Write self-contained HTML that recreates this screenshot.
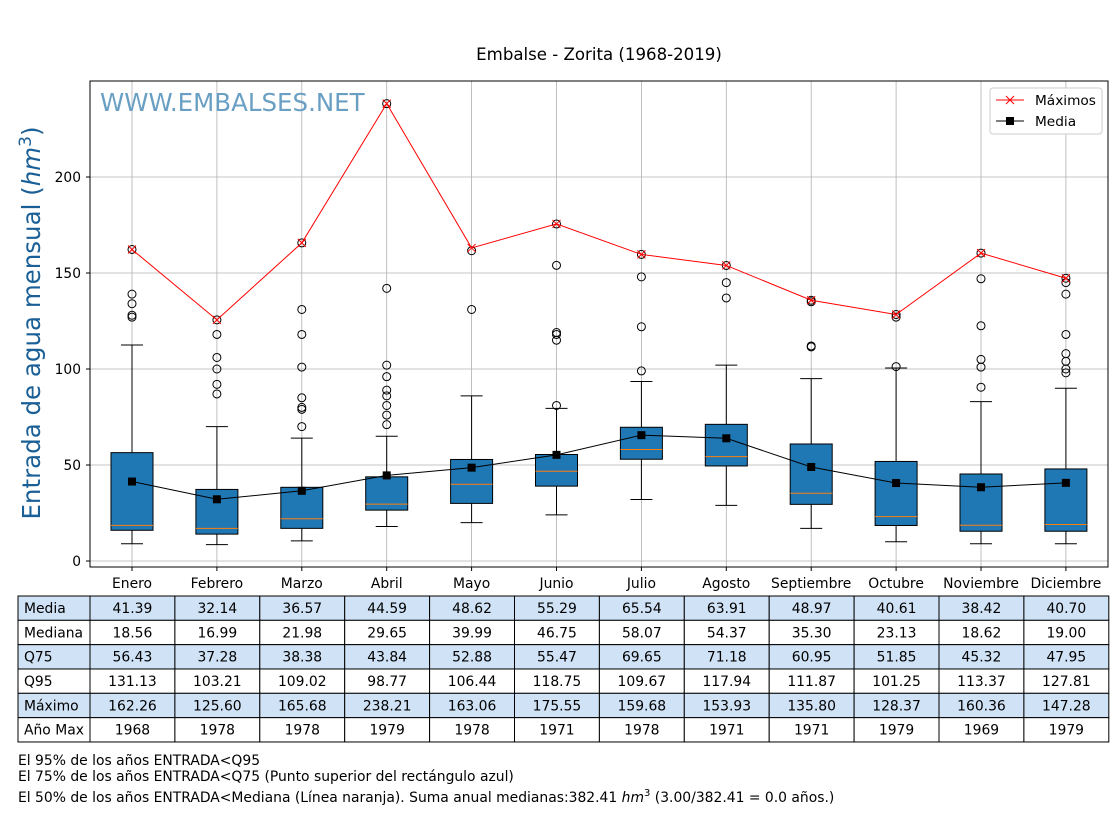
<!DOCTYPE html>
<html><head><meta charset="utf-8"><style>
body{margin:0;background:#fff;width:1120px;height:810px;overflow:hidden}
svg{font-family:"DejaVu Sans","Liberation Sans",sans-serif}
</style></head><body>
<svg id="s" width="1120" height="810" xmlns="http://www.w3.org/2000/svg"></svg>
<script>
const s=document.getElementById('s');let h='';
const Y=v=>561-1.92*v, X=i=>132+i*84.9;
h+='<text x="599" y="60" font-size="16.6" text-anchor="middle">Embalse - Zorita (1968-2019)</text>';
for(let i=0;i<12;i++)h+=`<line x1="${X(i)}" y1="81" x2="${X(i)}" y2="567" stroke="#b0b0b0" stroke-width="0.8"/>`;
for(let v=0;v<=200;v+=50){h+=`<line x1="90" y1="${Y(v)}" x2="1108" y2="${Y(v)}" stroke="#b0b0b0" stroke-width="0.8"/><line x1="86" y1="${Y(v)}" x2="90" y2="${Y(v)}" stroke="#000"/><text x="81" y="${Y(v)+5}" font-size="13.8" text-anchor="end">${v}</text>`;}
h+='<text x="100" y="111" font-size="24.5" fill="#6a9fc4">WWW.EMBALSES.NET</text>';
const months=['Enero','Febrero','Marzo','Abril','Mayo','Junio','Julio','Agosto','Septiembre','Octubre','Noviembre','Diciembre'];
const B=[[9,16,18.56,56.43,112.5,[127,128,134,139,162.26]],[8.5,14,16.99,37.28,70,[87,92,100,106,118,125.6]],[10.5,17,21.98,38.38,64,[70,79,80,85,101,118,131,165.68]],[18,26.5,29.65,43.84,65,[71,76,81,86,89,96,102,142,238.21]],[20,30,39.99,52.88,86,[131,161.6]],[24,39,46.75,55.47,79.5,[81,115,118,119,154,175.55]],[32,53,58.07,69.65,93.5,[99,122,148,159.68]],[29,49.5,54.37,71.18,102,[137,145,153.93]],[17,29.5,35.3,60.95,95,[111.5,112,135,135.8]],[10,18.5,23.13,51.85,100.5,[101.25,127,128.37]],[9,15.5,18.62,45.32,83,[90.5,101,105,122.5,147,160.36]],[9,15.5,19,47.95,90,[98,100,104,108,118,139,145,147.28]]];
const med=[41.39,32.14,36.57,44.59,48.62,55.29,65.54,63.91,48.97,40.61,38.42,40.70];
const mx=[162.26,125.60,165.68,238.21,163.06,175.55,159.68,153.93,135.80,128.37,160.36,147.28];
B.forEach((b,i)=>{const x=X(i);
h+=`<line x1="${x}" y1="${Y(b[0])}" x2="${x}" y2="${Y(b[1])}" stroke="#000"/><line x1="${x}" y1="${Y(b[3])}" x2="${x}" y2="${Y(b[4])}" stroke="#000"/>`;
h+=`<line x1="${x-11}" y1="${Y(b[0])}" x2="${x+11}" y2="${Y(b[0])}" stroke="#000"/><line x1="${x-11}" y1="${Y(b[4])}" x2="${x+11}" y2="${Y(b[4])}" stroke="#000"/>`;
h+=`<rect x="${x-21}" y="${Y(b[3])}" width="42" height="${Y(b[1])-Y(b[3])}" fill="#1f77b4" stroke="#000"/>`;
h+=`<line x1="${x-21}" y1="${Y(b[2])}" x2="${x+21}" y2="${Y(b[2])}" stroke="#ff7f0e"/>`;
b[5].forEach(o=>h+=`<circle cx="${x}" cy="${Y(o)}" r="4" fill="none" stroke="#000"/>`);
h+=`<line x1="${x}" y1="567" x2="${x}" y2="571" stroke="#000"/><text x="${x}" y="588" font-size="13.9" text-anchor="middle">${months[i]}</text>`;});
h+=`<polyline points="${mx.map((v,i)=>X(i)+','+Y(v)).join(' ')}" fill="none" stroke="red"/>`;
mx.forEach((v,i)=>{const x=X(i),y=Y(v);h+=`<path d="M${x-4} ${y-4}L${x+4} ${y+4}M${x-4} ${y+4}L${x+4} ${y-4}" stroke="red"/>`});
h+=`<polyline points="${med.map((v,i)=>X(i)+','+Y(v)).join(' ')}" fill="none" stroke="#000"/>`;
med.forEach((v,i)=>h+=`<rect x="${X(i)-4}" y="${Y(v)-4}" width="8" height="8"/>`);
h+='<rect x="90" y="81" width="1018" height="486" fill="none" stroke="#000"/>';
h+='<rect x="990" y="88" width="112" height="46" rx="3" fill="#fff" stroke="#ccc"/>';
h+='<line x1="996" y1="100" x2="1024" y2="100" stroke="red"/><path d="M1006 96L1014 104M1006 104L1014 96" stroke="red"/><text x="1035" y="105" font-size="13.7">Máximos</text>';
h+='<line x1="996" y1="121" x2="1024" y2="121" stroke="#000"/><rect x="1006" y="117" width="8" height="8"/><text x="1035" y="126" font-size="13.7">Media</text>';
h+='<text transform="translate(40,323) rotate(-90)" font-size="24.5" fill="#1a5f96" text-anchor="middle">Entrada de agua mensual (<tspan font-style="italic">hm</tspan><tspan dy="-9" font-size="17">3</tspan><tspan dy="9">)</tspan></text>';
const rows=[['Media',med.map(v=>v.toFixed(2))],['Mediana',['18.56','16.99','21.98','29.65','39.99','46.75','58.07','54.37','35.30','23.13','18.62','19.00']],['Q75',['56.43','37.28','38.38','43.84','52.88','55.47','69.65','71.18','60.95','51.85','45.32','47.95']],['Q95',['131.13','103.21','109.02','98.77','106.44','118.75','109.67','117.94','111.87','101.25','113.37','127.81']],['Máximo',mx.map(v=>v.toFixed(2))],['Año Max',['1968','1978','1978','1979','1978','1971','1978','1971','1971','1979','1969','1979']]];
const rh=24.33;
rows.forEach((r,k)=>{const y=596+k*rh,f=k%2==0?'#d0e2f5':'#fff';
h+=`<rect x="18" y="${y}" width="72" height="${rh}" fill="${f}" stroke="#000"/><text x="24" y="${y+17}" font-size="13.9">${r[0]}</text>`;
r[1].forEach((t,i)=>{const x=90+i*84.9;h+=`<rect x="${x}" y="${y}" width="84.9" height="${rh}" fill="${f}" stroke="#000"/><text x="${x+42.45}" y="${y+17}" font-size="13.9" text-anchor="middle">${t}</text>`;});});
h+='<text x="18" y="765" font-size="13.9">El 95% de los años ENTRADA&lt;Q95</text>';
h+='<text x="18" y="781" font-size="13.9">El 75% de los años ENTRADA&lt;Q75 (Punto superior del rectángulo azul)</text>';
h+='<text x="18" y="802" font-size="13.9">El 50% de los años ENTRADA&lt;Mediana (Línea naranja). Suma anual medianas:382.41 <tspan font-style="italic">hm</tspan><tspan dy="-6" font-size="10">3</tspan><tspan dy="6"> (3.00/382.41 = 0.0 años.)</tspan></text>';
s.innerHTML=h;
</script>
</body></html>
